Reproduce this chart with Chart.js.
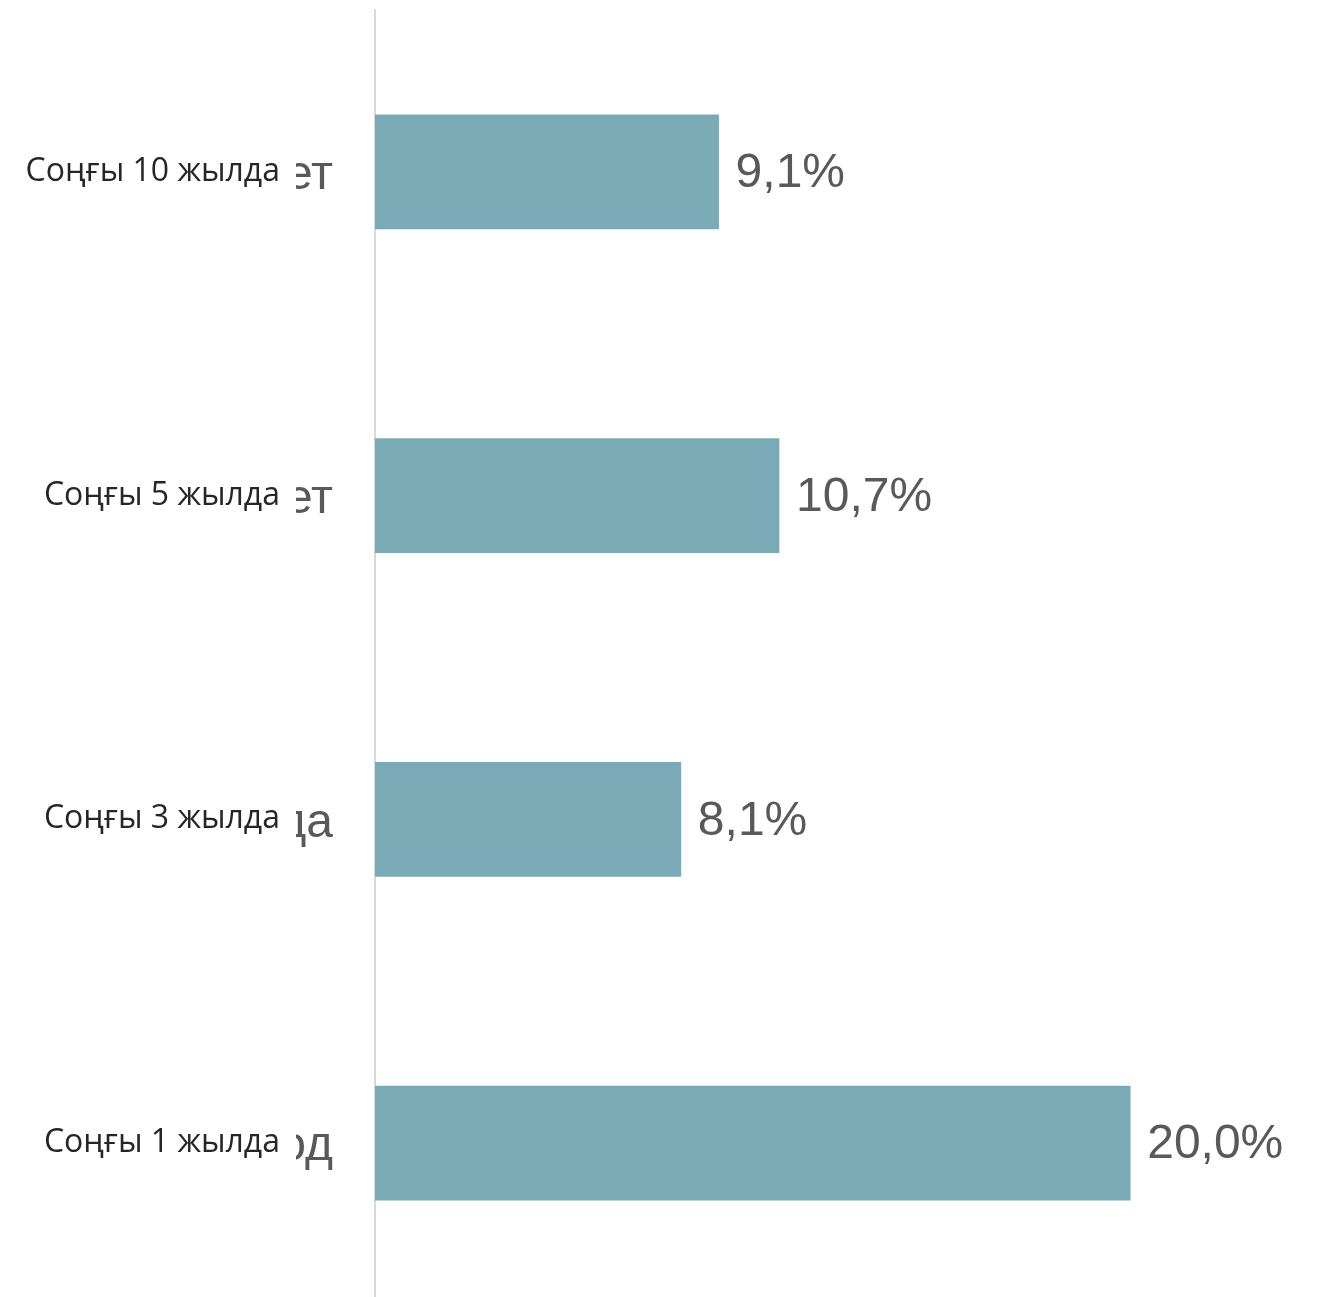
<!DOCTYPE html>
<html>
<head>
<meta charset="utf-8">
<script src="https://cdn.jsdelivr.net/npm/chart.js@4/dist/chart.umd.min.js"></script>
<style>
  html, body { margin: 0; padding: 0; background: #ffffff; overflow: hidden; }
  #wrap { width: 1319px; height: 1305px; }
</style>
</head>
<body>
<div id="wrap"><canvas id="growthChart" width="1319" height="1305"></canvas></div>
<script>
// категориялар
const categories = ["Соңғы 10 жылда", "Соңғы 5 жылда", "Соңғы 3 жылда", "Соңғы 1 жылда"];
// жартылай жабылған сұр жазулардың қалдықтары (сол жағы көрінбейді)
const hiddenTails = ["ет", "ет", "да", "од"];
// мәндер, %
const growthValues = [9.1, 10.7, 8.1, 20.0];

const barColor = "rgb(122, 170, 181)";
const grayText = "#595959";
const valueFont = "48px 'Liberation Sans', Arial, sans-serif";

// бағандардың соңына мән жазу + сұр қалдықтар
const valueLabels = {
    id: "valueLabels",
    afterDraw(chart) {
        const ctx = chart.ctx;
        const meta = chart.getDatasetMeta(0);
        const yScale = chart.scales.y;
        ctx.save();
        ctx.font = valueFont;
        ctx.fillStyle = grayText;
        ctx.textBaseline = "middle";
        ctx.textAlign = "left";
        meta.data.forEach((bar, i) => {
            const txt = growthValues[i].toFixed(1).replace(".", ",") + "%";
            ctx.fillText(txt, bar.x + 17, bar.y + 2);
        });
        // тек оң жақ бөлігі көрінеді
        ctx.beginPath();
        ctx.rect(296, 0, yScale.right - 296, chart.height);
        ctx.clip();
        ctx.textAlign = "right";
        hiddenTails.forEach((t, i) => {
            ctx.fillText(t, yScale.right - 42, yScale.getPixelForValue(i) + 4);
        });
        ctx.restore();
    }
};

new Chart(document.getElementById("growthChart").getContext("2d"), {
    type: "bar",
    data: {
        labels: categories,
        datasets: [{
            data: growthValues,
            backgroundColor: barColor,
            borderWidth: 0,
            barThickness: 114
        }]
    },
    options: {
        indexAxis: "y",
        responsive: false,
        animation: false,
        layout: { padding: { top: 10, right: 0, bottom: 0, left: 0 } },
        plugins: {
            legend: { display: false },
            tooltip: { enabled: false }
        },
        scales: {
            x: {
                display: false,
                min: 0,
                max: 25
            },
            y: {
                offset: true,
                grid: { display: false, drawTicks: false },
                border: { display: true, color: "#d9d9d9", width: 2 },
                ticks: {
                    padding: 95,
                    color: "#262626",
                    font: { family: "'Open Sans', sans-serif", size: 32 }
                },
                afterFit(scale) {
                    scale.width = 375;
                    scale.paddingTop = 0;
                    scale.paddingBottom = 0;
                }
            }
        }
    },
    plugins: [valueLabels]
});
</script>
</body>
</html>
